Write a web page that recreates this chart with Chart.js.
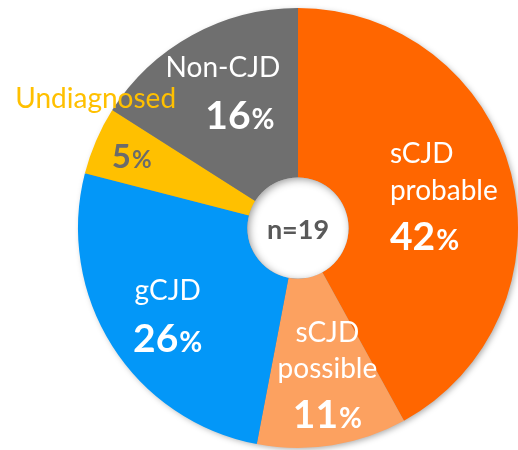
<!DOCTYPE html>
<html>
<head>
<meta charset="utf-8">
<script src="https://cdn.jsdelivr.net/npm/chart.js@4"></script>
<style>
  html, body { margin: 0; padding: 0; background: #fff; }
  #chart { display: block; }
</style>
</head>
<body>
<canvas id="chart" width="518" height="450"></canvas>
<script>
const categories = ["sCJD probable", "sCJD possible", "gCJD", "Undiagnosed", "Non-CJD"];
const percents = [42, 11, 26, 5, 16];
const sliceColors = ["#FF6600", "#FCA160", "#0397F8", "#FFC000", "#6F6F6F"];
const totalCases = 19;

// label layout, relative to a point at 68% of the radius on each slice's mid angle
const labelLayout = [
  { align: "left", dx: -53, name: [["sCJD", -28], ["probable", 9]], pct: 59, pctColor: "#fff", nameColor: "#fff" },
  { align: "center", dx: 6, name: [["sCJD", -34], ["possible", 2]], pct: 52, pctColor: "#fff", nameColor: "#fff" },
  { align: "center", dx: -4, name: [["gCJD", -8]], pct: 44, pctColor: "#fff", nameColor: "#fff" },
  { align: "center", dx: -29, name: [["Undiagnosed", -61, -65]], pct: -1, pctColor: "#6B6B6B", nameColor: "#FFC000", small: true },
  { align: "center", dx: -3, name: [["Non-CJD", -20]], pct: 32, pctDx: 17, pctColor: "#fff", nameColor: "#fff" }
];

const FONT = "Lato, 'Open Sans', sans-serif";

const shadowPlugin = {
  id: "shadow",
  beforeDatasetsDraw(chart) {
    const arc = chart.getDatasetMeta(0).data[0];
    if (!arc) return;
    const { x, y, outerRadius } = arc.getProps(["x", "y", "outerRadius"], true);
    const ctx = chart.ctx;
    ctx.save();
    ctx.shadowColor = "rgba(0,0,0,0.35)";
    ctx.shadowBlur = 6;
    ctx.shadowOffsetX = 2;
    ctx.shadowOffsetY = 2;
    ctx.fillStyle = "#888";
    ctx.beginPath();
    ctx.arc(x, y, outerRadius - 1, 0, Math.PI * 2);
    ctx.fill();
    ctx.restore();
  },
  afterDatasetsDraw(chart) {
    const arc = chart.getDatasetMeta(0).data[0];
    if (!arc) return;
    const { x, y, innerRadius } = arc.getProps(["x", "y", "innerRadius"], true);
    const ctx = chart.ctx;
    ctx.save();
    ctx.beginPath();
    ctx.arc(x, y, innerRadius, 0, Math.PI * 2);
    ctx.fillStyle = "#fff";
    ctx.fill();
    ctx.clip();
    // inner shadow of the hole
    ctx.beginPath();
    ctx.arc(x, y, innerRadius + 6, 0, Math.PI * 2);
    ctx.lineWidth = 10;
    ctx.strokeStyle = "#000";
    ctx.shadowColor = "rgba(0,0,0,0.45)";
    ctx.shadowBlur = 8;
    ctx.shadowOffsetX = 2;
    ctx.shadowOffsetY = 2;
    ctx.stroke();
    ctx.restore();
  }
};

const labelPlugin = {
  id: "sliceLabels",
  afterDraw(chart) {
    const ctx = chart.ctx;
    const meta = chart.getDatasetMeta(0);
    meta.data.forEach((arc, i) => {
      const p = arc.getProps(["x", "y", "startAngle", "endAngle", "outerRadius"], true);
      const mid = (p.startAngle + p.endAngle) / 2;
      const ax = p.x + Math.cos(mid) * p.outerRadius * 0.68;
      const ay = p.y + Math.sin(mid) * p.outerRadius * 0.68;
      const lay = labelLayout[i];
      ctx.save();
      ctx.textBaseline = "alphabetic";
      ctx.font = "28px " + FONT;
      ctx.fillStyle = lay.nameColor;
      lay.name.forEach(([txt, dy, ndx]) => {
        ctx.textAlign = lay.align;
        ctx.fillText(txt, ax + (ndx !== undefined ? ndx : lay.dx), ay + dy);
      });
      // percentage: big bold number + smaller percent sign
      const num = String(percents[i]);
      const numFont = "bold " + (lay.small ? 33 : 39) + "px " + FONT;
      const pctFont = "bold " + (lay.small ? 24 : 28) + "px " + FONT;
      ctx.font = numFont;
      const wn = ctx.measureText(num).width;
      ctx.font = pctFont;
      const wp = ctx.measureText("%").width;
      const total = wn + wp + 1;
      let left = ax + lay.dx + (lay.pctDx || 0);
      if (lay.align === "center") left -= total / 2;
      ctx.textAlign = "left";
      ctx.fillStyle = lay.pctColor;
      ctx.font = numFont;
      ctx.fillText(num, left, ay + lay.pct);
      ctx.font = pctFont;
      ctx.fillText("%", left + wn + 1, ay + lay.pct);
      ctx.restore();
    });
    const c = meta.data[0].getProps(["x", "y"], true);
    ctx.save();
    ctx.font = "bold 27px " + FONT;
    ctx.fillStyle = "#595959";
    ctx.textAlign = "center";
    ctx.textBaseline = "alphabetic";
    ctx.fillText("n=" + totalCases, c.x, c.y + 11);
    ctx.restore();
  }
};

new Chart(document.getElementById("chart"), {
  type: "doughnut",
  data: {
    labels: categories,
    datasets: [{
      data: percents,
      backgroundColor: sliceColors,
      borderWidth: 0
    }]
  },
  options: {
    responsive: false,
    animation: false,
    cutout: "23%",
    layout: { padding: { left: 78, right: 0, top: 8, bottom: 2 } },
    plugins: {
      legend: { display: false },
      tooltip: { enabled: false }
    }
  },
  plugins: [shadowPlugin, labelPlugin]
});
</script>
</body>
</html>
